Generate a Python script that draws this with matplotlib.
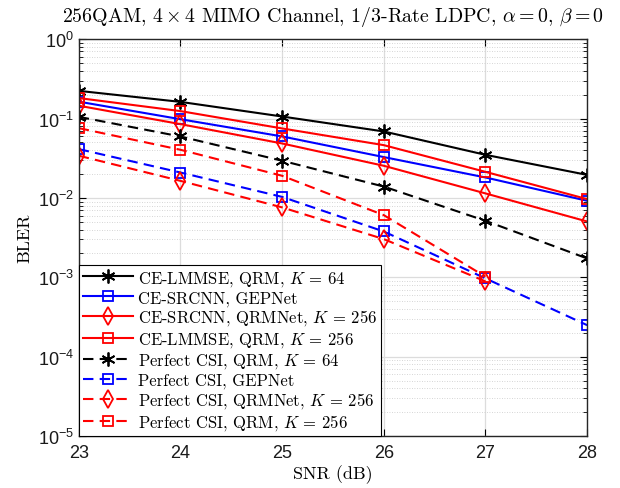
import numpy as np
import matplotlib
matplotlib.use('Agg')
import matplotlib.pyplot as plt

plt.rcParams['mathtext.fontset'] = 'cm'
plt.rcParams['axes.unicode_minus'] = False

# SNR points (dB)
snr = [23, 24, 25, 26, 27, 28]
snr_short = [23, 24, 25, 26, 27]

# BLER
ce_lmmse_qrm64 = [0.223, 0.162, 0.106, 0.0687, 0.0349, 0.0195]
ce_srcnn_gepnet = [0.163, 0.098, 0.0595, 0.0327, 0.0181, 0.0092]
ce_srcnn_qrmnet256 = [0.145, 0.085, 0.0485, 0.0254, 0.0114, 0.00505]
ce_lmmse_qrm256 = [0.181, 0.124, 0.075, 0.0462, 0.0213, 0.00966]
pcsi_qrm64 = [0.105, 0.0594, 0.0294, 0.0139, 0.00515, 0.00173]
pcsi_gepnet = [0.0412, 0.0209, 0.0103, 0.00378, 0.00097, 0.00025]
pcsi_qrmnet256 = [0.034, 0.0164, 0.0076, 0.00303, 0.00089]
pcsi_qrm256 = [0.0757, 0.0404, 0.019, 0.00607, 0.00102]

labels = ['CE-LMMSE, QRM, $K$ = 64',
          'CE-SRCNN, GEPNet',
          'CE-SRCNN, QRMNet, $K$ = 256',
          'CE-LMMSE, QRM, $K$ = 256',
          'Perfect CSI, QRM, $K$ = 64',
          'Perfect CSI, GEPNet',
          'Perfect CSI, QRMNet, $K$ = 256',
          'Perfect CSI, QRM, $K$ = 256']

star = (6, 2, 0)

fig = plt.figure(figsize=(6.2, 4.89), dpi=100)
ax = fig.add_axes([0.127, 0.106, 0.82, 0.812])

lw = 1.5
dash = (0, (5, 3))
ax.plot(snr, ce_lmmse_qrm64, color='k', lw=lw, marker=star, ms=10, mew=1.3,
        label=labels[0])
ax.plot(snr, ce_srcnn_gepnet, color='b', lw=lw, marker='s', ms=7, mfc='none',
        mew=1.3, label=labels[1])
ax.plot(snr, ce_srcnn_qrmnet256, color='r', lw=lw, marker='d', ms=9, mfc='none',
        mew=1.3, label=labels[2])
ax.plot(snr, ce_lmmse_qrm256, color='r', lw=lw, marker='s', ms=7, mfc='none',
        mew=1.3, label=labels[3])
ax.plot(snr, pcsi_qrm64, color='k', lw=lw, ls=dash, marker=star, ms=10, mew=1.3,
        label=labels[4])
ax.plot(snr, pcsi_gepnet, color='b', lw=lw, ls=dash, marker='s', ms=7, mfc='none',
        mew=1.3, label=labels[5])
ax.plot(snr_short, pcsi_qrmnet256, color='r', lw=lw, ls=dash, marker='d', ms=9,
        mfc='none', mew=1.3, label=labels[6])
ax.plot(snr_short, pcsi_qrm256, color='r', lw=lw, ls=dash, marker='s', ms=7,
        mfc='none', mew=1.3, label=labels[7])

ax.set_yscale('log')
ax.set_xlim(23, 28)
ax.set_ylim(1e-5, 1)
ax.set_xticks(snr)
ax.set_yticks([1e-5, 1e-4, 1e-3, 1e-2, 1e-1, 1])

for t in ax.get_xticklabels() + ax.get_yticklabels():
    t.set_fontfamily('Liberation Sans')
    t.set_fontsize(13)
    t.set_color('#1a1a1a')

ax.tick_params(which='both', direction='in', top=True, right=True)
ax.tick_params(which='major', length=5, width=0.8)
ax.tick_params(which='minor', length=3, width=0.6)
ax.tick_params(axis='x', pad=6)

ax.grid(True, which='major', color='#dcdcdc', lw=0.9)
ax.grid(True, which='minor', color='#c8c8c8', lw=0.6, ls=(0, (1, 2)))
ax.set_axisbelow(True)
for s in ax.spines.values():
    s.set_linewidth(1.0)
    s.set_color('#262626')

ax.set_xlabel('SNR (dB)', fontfamily='cmr10', fontsize=13, labelpad=2)
ax.set_ylabel('BLER', fontfamily='cmr10', fontsize=13, labelpad=4)
ax.set_title(r'256QAM, $4\times4$ MIMO Channel, 1/3-Rate LDPC, $\alpha=0$, $\beta=0$',
             fontfamily='cmr10', fontsize=14.3, pad=13)

leg = ax.legend(loc='lower left', borderaxespad=0, fancybox=False,
                edgecolor='k', framealpha=1, handlelength=3.0,
                prop={'family': 'cmr10', 'size': 12}, labelspacing=0.12,
                borderpad=0.25, handletextpad=0.3)
leg.get_frame().set_linewidth(0.8)

fig.savefig('out.png', dpi=100)
